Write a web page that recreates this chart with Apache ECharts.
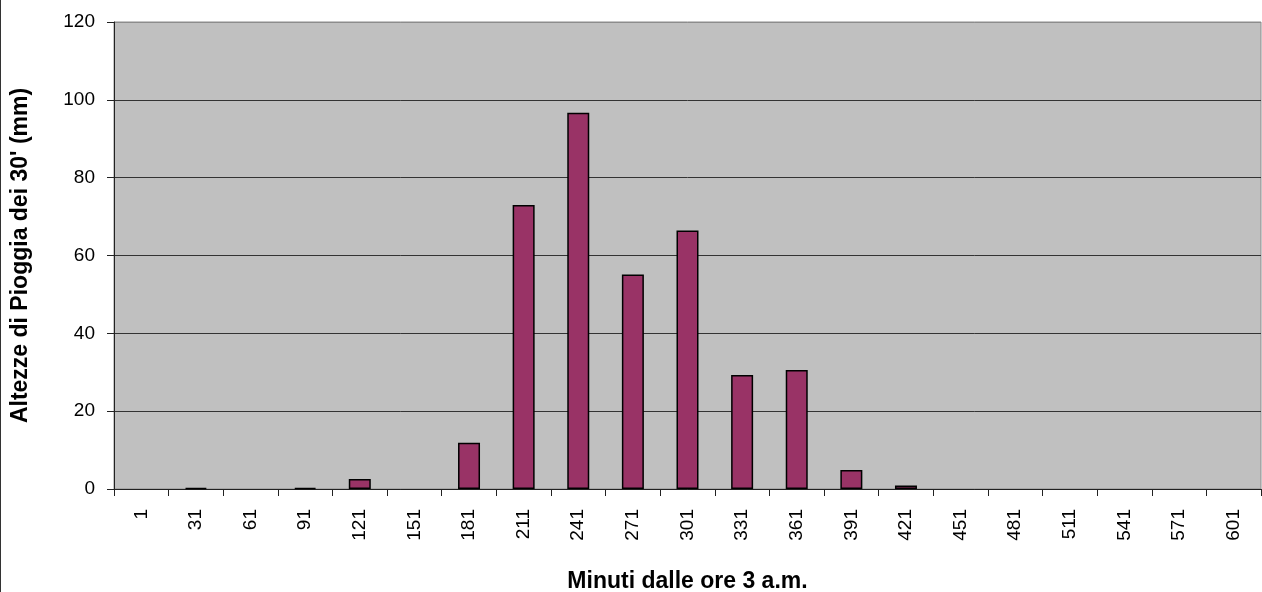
<!DOCTYPE html>
<html>
<head>
<meta charset="utf-8">
<script src="https://cdn.jsdelivr.net/npm/echarts@6/dist/echarts.min.js"></script>
<style>
html,body{margin:0;padding:0;background:#fff;}
#chart{width:1262px;height:592px;}
</style>
</head>
<body>
<div id="chart"></div>
<script>
const categories = ['1','31','61','91','121','151','181','211','241','271','301','331','361','391','421','451','481','511','541','571','601'];
const rainfall = [0, 0.3, 0, 0.3, 2.6, 0, 11.9, 73.0, 96.7, 55.1, 66.4, 29.3, 30.6, 4.9, 0.9, 0, 0, 0, 0, 0, 0];
const yTicks = {min: 0, max: 120, interval: 20};
const xTitle = 'Minuti dalle ore 3 a.m.';
const yTitle = "Altezze di Pioggia dei 30' (mm)";

const chart = echarts.init(document.getElementById('chart'), null, {renderer: 'canvas'});
const font = 'Liberation Sans, Arial, sans-serif';
chart.setOption({
  animation: false,
  backgroundColor: '#ffffff',
  textStyle: {fontFamily: font},
  grid: {
    left: 114, right: 1, top: 22, bottom: 103,
    containLabel: false, outerBoundsMode: 'none',
    show: true, backgroundColor: '#c0c0c0', borderColor: '#8c8c8c', borderWidth: 1
  },
  graphic: [{
    type: 'line', shape: {x1: 0.5, y1: 0, x2: 0.5, y2: 592},
    style: {stroke: '#333', lineWidth: 1}
  }],
  xAxis: {
    type: 'category',
    data: categories,
    boundaryGap: true,
    name: xTitle,
    nameLocation: 'middle',
    nameGap: 81,
    nameTextStyle: {fontFamily: font, fontSize: 23, fontWeight: 'bold', color: '#000'},
    axisLine: {show: true, lineStyle: {color: '#222', width: 1}},
    axisTick: {show: true, length: 7, alignWithLabel: false, lineStyle: {color: '#222'}},
    axisLabel: {rotate: 90, margin: 20, fontSize: 19, color: '#000', fontFamily: font, interval: 0},
    splitLine: {show: false}
  },
  yAxis: {
    type: 'value',
    min: yTicks.min, max: yTicks.max, interval: yTicks.interval,
    name: yTitle,
    nameLocation: 'middle',
    nameGap: 82,
    nameTextStyle: {fontFamily: font, fontSize: 23, fontWeight: 'bold', color: '#000'},
    axisLine: {show: true, lineStyle: {color: '#222', width: 1}},
    axisTick: {show: true, length: 7, lineStyle: {color: '#222'}},
    axisLabel: {margin: 19, fontSize: 19, color: '#000', fontFamily: font},
    splitLine: {show: true, lineStyle: {color: ['#333','#333','#333','#333','#333','#333','#8c8c8c'], width: 1}}
  },
  series: [{
    type: 'bar',
    data: rainfall.map(v => (v === 0 ? '-' : v)),
    barWidth: 22,
    itemStyle: {color: '#993366', borderColor: '#000', borderWidth: 1.5}
  }]
});
</script>
</body>
</html>
